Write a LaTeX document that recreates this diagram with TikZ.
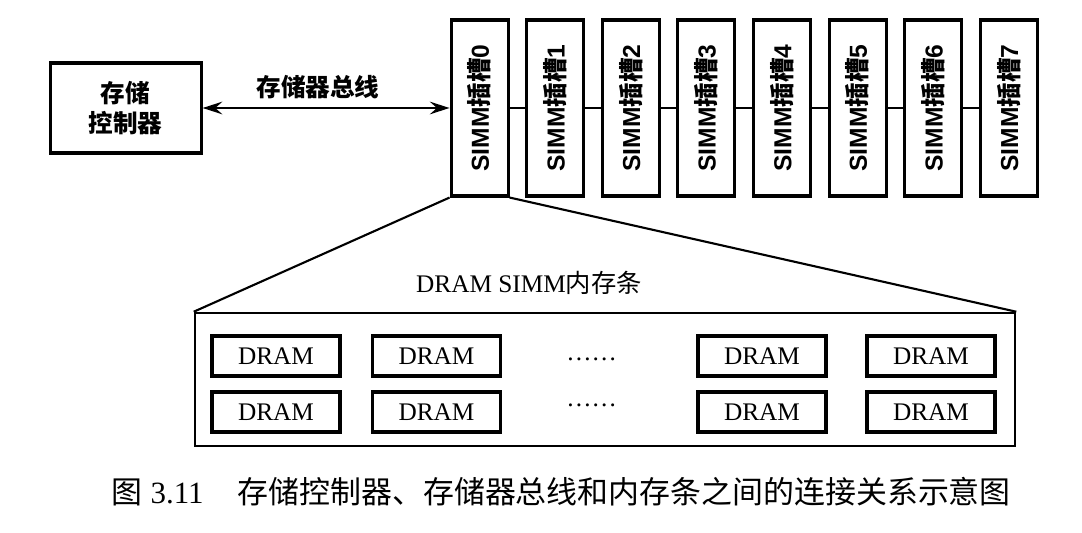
\documentclass[tikz,border=0pt]{standalone}
\usepackage{fontspec}
\setmainfont{Liberation Serif}
\setsansfont{Liberation Sans}
\newfontfamily\cjk{Noto Sans CJK SC}
\usepackage{graphicx}
\usepackage{tikz}
\usetikzlibrary{arrows.meta}

\newcommand{\slotlabel}[1]{\rotatebox{90}{\sffamily\bfseries SIMM{\cjk\bfseries 插槽}#1}}

\begin{document}
\begin{tikzpicture}[
    ctrlblock/.style={rectangle, draw, line width=2.2pt, minimum width=3.775cm, minimum height=2.25cm, font=\cjk\bfseries\fontsize{17.5}{21}\selectfont, align=center},
    slotblock/.style={rectangle, draw, line width=2.2pt, minimum width=1.425cm, minimum height=4.4cm, inner sep=0pt, font=\fontsize{17.5}{20}\selectfont},
    moduleblock/.style={rectangle, draw, line width=1.8pt, minimum width=20.5cm, minimum height=3.325cm},
    dramblock/.style={rectangle, draw, line width=2.2pt, minimum width=3.2cm, minimum height=1cm, font=\fontsize{18}{20}\selectfont},
    arr/.style={{Stealth[length=14pt, width=9pt, inset=5pt]}-{Stealth[length=14pt, width=9pt, inset=5pt]}, line width=1.5pt},
    link/.style={line width=1.5pt},
    lbl/.style={font=\cjk\bfseries\fontsize{17.5}{21}\selectfont},
    dots/.style={font=\fontsize{18}{20}\selectfont, anchor=base},
]
\useasboundingbox (0, 0) rectangle (27.05, 13.3);

% Controller and bus
\node[ctrlblock] (ctrl) at (3.14, 10.6) {存储\\控制器};
\node[lbl] (buslbl) at (7.95, 11.125) {存储器总线};

% SIMM slots
\node[slotblock] (s0) at (11.99, 10.6) {\slotlabel{0}};
\node[slotblock] (s1) at (13.88, 10.6) {\slotlabel{1}};
\node[slotblock] (s2) at (15.77, 10.6) {\slotlabel{2}};
\node[slotblock] (s3) at (17.66, 10.6) {\slotlabel{3}};
\node[slotblock] (s4) at (19.55, 10.6) {\slotlabel{4}};
\node[slotblock] (s5) at (21.44, 10.6) {\slotlabel{5}};
\node[slotblock] (s6) at (23.33, 10.6) {\slotlabel{6}};
\node[slotblock] (s7) at (25.22, 10.6) {\slotlabel{7}};

% Arrows
\draw[arr] (ctrl.east) -- (s0.west);
\draw[link] (s0) -- (s1);
\draw[link] (s1) -- (s2);
\draw[link] (s2) -- (s3);
\draw[link] (s3) -- (s4);
\draw[link] (s4) -- (s5);
\draw[link] (s5) -- (s6);
\draw[link] (s6) -- (s7);

% DRAM SIMM module
\node[moduleblock] (module) at (15.125, 3.8125) {};
\node[font=\fontsize{18}{20}\selectfont] (modlbl) at (13.225, 6.225) {DRAM SIMM{\cjk 内存条}};
\draw[link] (s0.south west) -- (module.north west);
\draw[link] (s0.south east) -- (module.north east);

% DRAM chips
\node[dramblock] (d11) at (6.9, 4.4) {DRAM};
\node[dramblock] (d12) at (10.9125, 4.4) {DRAM};
\node[dots] (dot1) at (14.79, 4.3) {\ldots\ldots};
\node[dramblock] (d13) at (19.05, 4.4) {DRAM};
\node[dramblock] (d14) at (23.275, 4.4) {DRAM};

\node[dramblock] (d21) at (6.9, 3.0) {DRAM};
\node[dramblock] (d22) at (10.9125, 3.0) {DRAM};
\node[dots] (dot2) at (14.79, 3.15) {\ldots\ldots};
\node[dramblock] (d23) at (19.05, 3.0) {DRAM};
\node[dramblock] (d24) at (23.275, 3.0) {DRAM};

% Caption
\node[anchor=west, font=\fontsize{22}{25}\selectfont] (caption) at (2.675, 1.0)
  {{\cjk 图}~3.11\hspace{1.1em}{\cjk 存储控制器、存储器总线和内存条之间的连接关系示意图}};

\end{tikzpicture}
\end{document}
